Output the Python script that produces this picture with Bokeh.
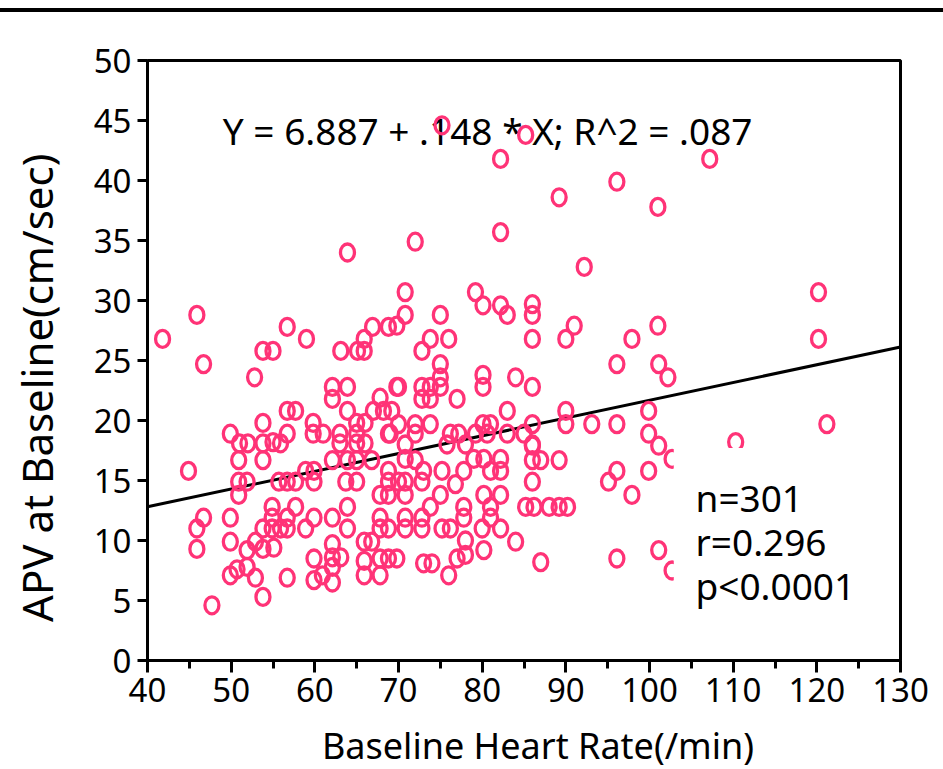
from bokeh.plotting import figure
from bokeh.models import Range1d, SingleIntervalTicker, Label, BoxAnnotation, Div
from bokeh.layouts import column
from bokeh.core.properties import value
from bokeh.embed import file_html
from bokeh.resources import INLINE

# ---- data ----
heart_rate = [
    41.8, 45.9, 46.7, 52.8, 53.8, 55.0, 56.7, 59.0, 63.1, 65.1, 65.9, 65.9, 66.9, 68.8, 63.9,
    62.1, 63.9, 62.1, 63.9, 67.8, 67.0, 68.2, 69.2, 69.8, 56.7, 57.7, 53.8, 59.8, 65.0, 66.0,
    49.9, 51.0, 52.0, 53.8, 55.0, 55.9, 56.7, 59.8, 61.0, 63.0, 63.0, 65.0, 65.0, 66.0, 68.8,
    50.9, 53.8, 44.9, 50.9, 51.9, 50.9, 55.7, 56.7, 57.7, 58.9, 59.9, 59.9, 63.7, 65.0,
    62.1, 63.9, 65.0, 66.8, 68.8, 68.8, 67.8, 68.8,
    46.7, 45.9, 45.9, 49.9, 49.9, 49.9, 47.7, 50.7, 51.9, 51.9, 52.9, 53.8, 52.9, 53.8, 53.8,
    54.9, 54.9, 54.9, 55.1, 55.9, 56.7, 57.7, 56.7, 58.9, 59.9, 62.1, 63.9, 63.9, 62.1, 63.1,
    62.1, 59.9, 62.1, 59.9, 60.9, 62.1, 56.7, 65.9, 66.8, 65.9, 65.9, 67.8, 67.8, 68.8, 67.8,
    67.8, 68.8,
    92.2, 70.8, 79.2, 80.1, 82.2, 83.0, 86.0, 86.0, 86.0, 90.0, 91.0, 97.9, 96.1, 70.8, 69.8,
    75.0, 73.8, 76.0, 72.8, 75.0, 75.0, 75.0, 73.8, 72.8, 72.8, 73.8, 77.0, 70.0, 80.1, 80.1,
    84.0, 86.0, 83.0, 90.0, 90.0, 93.1, 96.1, 86.0, 81.0, 80.1, 73.8, 72.0, 70.0, 69.0, 72.0,
    76.2, 77.2, 79.2, 83.0, 85.0, 86.0, 70.8, 75.8, 78.0, 80.6,
    70.8, 72.0, 73.0, 75.2, 77.8, 79.0, 80.2, 81.0, 82.2, 82.2, 70.0, 70.8, 72.8, 76.8, 86.0,
    70.8, 75.0, 80.2, 82.2, 73.8, 77.8, 81.0, 85.2, 86.2, 88.0, 89.2, 90.2,
    70.8, 72.8, 77.8, 81.0, 70.8, 72.8, 75.2, 76.2, 80.0, 82.2, 78.0, 84.0, 80.2, 69.8, 73.0,
    74.0, 77.0, 78.0, 76.0, 87.0, 96.1, 95.1, 96.1, 97.9, 86.0, 87.0, 89.2, 86.0,
    85.2, 107.2, 89.2, 96.1, 101.0, 120.2, 101.0, 120.2, 75.2, 82.2, 82.2, 72.0,
    101.1, 102.2, 99.9, 121.2, 110.3, 99.9, 101.1, 102.7, 99.9, 101.1, 102.7,
]
apv = [
    26.8, 28.8, 24.7, 23.6, 25.8, 25.8, 27.8, 26.8, 25.8, 25.8, 25.8, 26.8, 27.8, 27.8, 34.0,
    22.8, 22.8, 21.8, 20.8, 21.9, 20.8, 20.8, 20.8, 22.8, 20.8, 20.8, 19.8, 19.8, 19.8, 19.8,
    18.9, 18.1, 18.1, 18.1, 18.2, 18.1, 18.9, 18.9, 18.9, 18.9, 18.1, 18.9, 18.1, 18.1, 18.9,
    16.7, 16.7, 15.8, 14.9, 14.9, 13.8, 14.9, 14.9, 14.9, 15.8, 15.8, 14.9, 14.9, 14.9,
    16.7, 16.7, 16.7, 16.7, 15.8, 14.9, 13.8, 13.8,
    11.9, 11.0, 9.3, 11.9, 9.9, 7.1, 4.6, 7.6, 9.2, 7.8, 6.9, 5.3, 9.9, 11.0, 9.3,
    12.8, 11.9, 11.0, 9.4, 11.0, 11.9, 12.8, 11.0, 11.0, 11.9, 11.9, 12.8, 11.0, 9.7, 8.6,
    8.6, 8.5, 7.8, 6.7, 7.1, 6.5, 6.9, 9.9, 9.9, 8.3, 7.1, 7.1, 8.5, 8.5, 11.9,
    11.0, 11.0,
    32.8, 30.7, 30.7, 29.6, 29.6, 28.8, 29.7, 28.8, 26.8, 26.8, 27.9, 26.8, 24.7, 28.8, 27.9,
    28.8, 26.8, 26.8, 25.8, 24.7, 23.6, 22.8, 22.8, 22.8, 21.8, 21.8, 21.8, 22.8, 23.8, 22.8,
    23.6, 22.8, 20.8, 20.8, 19.7, 19.7, 19.7, 19.7, 19.7, 19.7, 19.7, 19.7, 19.7, 18.9, 18.9,
    18.9, 18.9, 18.9, 18.9, 18.9, 18.0, 18.0, 18.0, 18.0, 18.9,
    16.8, 16.7, 15.8, 15.8, 15.8, 16.8, 16.8, 15.8, 16.8, 15.8, 14.9, 14.9, 14.9, 14.7, 14.9,
    13.8, 13.8, 13.8, 13.8, 12.8, 12.8, 12.8, 12.8, 12.8, 12.8, 12.8, 12.8,
    11.9, 11.9, 11.9, 11.9, 11.0, 11.0, 11.0, 11.0, 11.0, 11.0, 10.0, 9.9, 9.2, 8.5, 8.1,
    8.1, 8.5, 8.8, 7.1, 8.2, 8.5, 14.9, 15.8, 13.8, 16.7, 16.7, 16.7, 17.9,
    43.8, 41.8, 38.6, 39.9, 37.8, 30.7, 27.9, 26.8, 44.6, 41.8, 35.7, 34.9,
    24.7, 23.6, 20.8, 19.7, 18.2, 18.9, 17.9, 16.8, 15.8, 9.2, 7.5,
]

reg_intercept = 6.887
reg_slope = 0.148
reg_x = [40, 130]
reg_y = [reg_intercept + reg_slope * v for v in reg_x]

equation_text = "Y  =  6.887  +  .148  *  X;  R^2  =  .087"
stats_lines = ["n=301", "r=0.296", "p<0.0001"]

x_label = "\u00a0" * 3 + "Baseline Heart Rate(/min)"
y_label = "APV at Baseline(cm/sec)" + "\u00a0" * 5

FONT = "Noto Sans"
PINK = "#ff3377"

p = figure(
    frame_width=753, frame_height=600,
    min_border_left=147, min_border_right=43, min_border_top=48, min_border_bottom=109,
    x_range=Range1d(40, 130), y_range=Range1d(0, 50),
    output_backend="svg", toolbar_location=None, margin=0,
)
p.xgrid.visible = False
p.ygrid.visible = False
p.outline_line_color = "black"
p.outline_line_width = 3
p.background_fill_color = "white"
p.border_fill_color = "white"

p.xaxis.ticker = SingleIntervalTicker(interval=10, num_minor_ticks=2)
p.yaxis.ticker = SingleIntervalTicker(interval=5, num_minor_ticks=0)
for ax in (p.xaxis[0], p.yaxis[0]):
    ax.axis_line_width = 3
    ax.major_tick_line_width = 3
    ax.minor_tick_line_width = 3
    ax.major_tick_in = 0
    ax.minor_tick_in = 0
    ax.major_label_text_font = FONT
    ax.major_label_text_font_size = "33px"
    ax.major_label_text_color = "black"
    ax.axis_label_text_font = FONT
    ax.axis_label_text_font_style = "normal"
    ax.axis_label_text_color = "black"
p.xaxis.axis_label_text_font_size = "36px"
p.yaxis.axis_label_text_font_size = "42px"
p.xaxis.major_tick_out = 12
p.xaxis.minor_tick_out = 8
p.yaxis.major_tick_out = 10
p.xaxis.major_label_standoff = 5
p.yaxis.major_label_standoff = 6
p.xaxis.axis_label = x_label
p.yaxis.axis_label = y_label
p.xaxis.axis_label_standoff = 16
p.yaxis.axis_label_standoff = 26

# equation text (under the points)
p.text(x=[49.0], y=[44.2], text=[equation_text], text_font=value(FONT),
       text_font_size="37px", text_color="black", text_baseline="alphabetic")

# regression line
p.line(reg_x, reg_y, line_color="black", line_width=3)

# points
p.ellipse(x=heart_rate, y=apv, width=14, height=17,
          width_units="screen", height_units="screen",
          fill_color=None, line_color=PINK, line_width=3.3)

# white panel behind statistics
p.add_layout(BoxAnnotation(left=102.9, right=126, bottom=3.5, top=17.7,
                           fill_color="white", fill_alpha=1.0, line_color=None))
for txt, yy in zip(stats_lines, [13.6, 9.9, 6.25]):
    p.add_layout(Label(x=105.5, y=yy, text=txt, text_font=FONT,
                       text_font_size="37px", text_color="black",
                       text_baseline="alphabetic"))

top_rule = Div(text='<div style="margin-top:7px;height:4px;width:943px;background:#000"></div>',
               width=943, height=12, margin=0)

layout = column(top_rule, p, spacing=0, margin=0)
open("out.html", "w").write(file_html(layout, INLINE))
